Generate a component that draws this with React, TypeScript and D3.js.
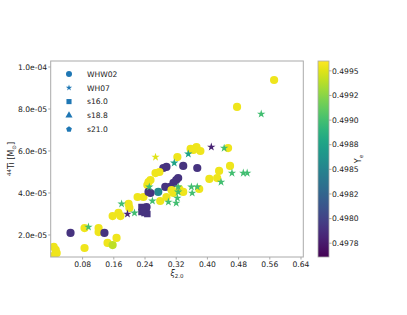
import React from "react";
import * as d3 from "d3";

// ---- data ----
const whw02Xi = [0.571, 0.476, 0.453, 0.357, 0.372, 0.382, 0.364, 0.323, 0.338, 0.287, 0.295, 0.374, 0.458, 0.430, 0.267, 0.277, 0.405, 0.425, 0.325, 0.320, 0.313, 0.305, 0.254, 0.246, 0.292, 0.328, 0.379, 0.274, 0.254, 0.308, 0.313, 0.338, 0.279, 0.295, 0.236, 0.221, 0.244, 0.249, 0.249, 0.198, 0.200, 0.157, 0.172, 0.177, 0.049, 0.085, 0.121, 0.121, 0.136, 0.144, 0.157, 0.167, 0.085, 0.006, 0.011, 0.0135, 0.003];
const whw02Ti = [9.38e-5, 8.10e-5, 6.14e-5, 6.10e-5, 6.19e-5, 6.00e-5, 6.05e-5, 5.71e-5, 5.29e-5, 5.19e-5, 5.24e-5, 5.19e-5, 5.29e-5, 5.05e-5, 4.95e-5, 5.00e-5, 4.67e-5, 4.71e-5, 4.71e-5, 4.62e-5, 4.48e-5, 4.29e-5, 4.62e-5, 4.38e-5, 4.29e-5, 4.19e-5, 4.19e-5, 4.05e-5, 4.00e-5, 4.14e-5, 4.00e-5, 4.05e-5, 3.62e-5, 3.81e-5, 3.81e-5, 3.81e-5, 3.33e-5, 4.05e-5, 4.52e-5, 3.48e-5, 3.29e-5, 2.90e-5, 3.05e-5, 2.90e-5, 2.10e-5, 2.33e-5, 2.33e-5, 2.14e-5, 2.10e-5, 1.62e-5, 1.52e-5, 1.86e-5, 1.38e-5, 1.43e-5, 1.29e-5, 1.14e-5, 1.0e-5];
const whw02Ye = [0.49955, 0.49955, 0.49955, 0.49955, 0.49955, 0.49955, 0.49955, 0.49955, 0.4979, 0.4979, 0.4979, 0.4979, 0.49955, 0.49955, 0.49955, 0.49955, 0.49955, 0.49955, 0.4979, 0.4979, 0.4979, 0.4979, 0.49955, 0.49955, 0.4979, 0.49955, 0.49955, 0.49855, 0.4979, 0.49955, 0.49955, 0.49955, 0.49955, 0.49955, 0.49955, 0.49955, 0.4979, 0.4979, 0.49955, 0.49955, 0.49955, 0.49955, 0.49955, 0.49955, 0.4979, 0.49955, 0.49955, 0.49955, 0.4979, 0.49955, 0.4994, 0.49955, 0.49955, 0.49955, 0.49955, 0.49955, 0.49955];

const wh07Xi = [0.538, 0.410, 0.443, 0.351, 0.267, 0.315, 0.463, 0.492, 0.502, 0.435, 0.251, 0.325, 0.359, 0.374, 0.361, 0.325, 0.323, 0.320, 0.300, 0.259, 0.180, 0.195, 0.213, 0.095];
const wh07Ti = [7.76e-5, 6.19e-5, 6.14e-5, 5.86e-5, 5.71e-5, 5.43e-5, 4.95e-5, 4.95e-5, 4.95e-5, 4.52e-5, 4.29e-5, 4.29e-5, 4.29e-5, 4.29e-5, 4.00e-5, 4.05e-5, 3.76e-5, 3.52e-5, 3.57e-5, 3.62e-5, 3.48e-5, 3.00e-5, 3.05e-5, 2.38e-5];
const wh07Ye = [0.4990, 0.4978, 0.4990, 0.49876, 0.4995, 0.49876, 0.4990, 0.4990, 0.4990, 0.4990, 0.4990, 0.4990, 0.4990, 0.4990, 0.4990, 0.4990, 0.4990, 0.4990, 0.4990, 0.4990, 0.4990, 0.4978, 0.4990, 0.4990];

const s160Xi = [0.231, 0.244, 0.231, 0.246];
const s160Ti = [3.33e-5, 3.24e-5, 3.10e-5, 3.00e-5];
const s160Ye = [0.4979, 0.4979, 0.4979, 0.4979];

const s188Xi = [0.241];
const s188Ti = [3.02e-5];
const s188Ye = [0.4979];

const s210Xi = [0.236];
const s210Ti = [3.18e-5];
const s210Ye = [0.4979];

const legendLabels = ["WHW02", "WH07", "s16.0", "s18.8", "s21.0"];
const xTicks = [0.08, 0.16, 0.24, 0.32, 0.40, 0.48, 0.56, 0.64];
const yTicks = [2e-5, 4e-5, 6e-5, 8e-5, 1e-4];
const yTickLabels = ["2.0e-05", "4.0e-05", "6.0e-05", "8.0e-05", "1.0e-04"];
const cbTicks = [0.49775, 0.498, 0.49825, 0.4985, 0.49875, 0.499, 0.49925, 0.4995];
const cbTickLabels = ["0.4978", "0.4980", "0.4982", "0.4985", "0.4988", "0.4990", "0.4992", "0.4995"];

const FONT = "DejaVu Sans";
const FS = 7.6;
const TXT = "#222";
const FRAME = "#aaaaaa";
const LEG = "#1f77b4";

export default function App() {
  const L = 50.7, R = 303.3, T = 61, B = 257;
  const x = d3.scaleLinear().domain([-0.0018, 0.6459]).range([L, R]);
  const y = d3.scaleLinear().domain([0.952e-5, 1.0286e-4]).range([B, T]);
  const cbL = 318, cbR = 329;
  const cScale = d3.scaleLinear().domain([0.49761, 0.4996]).range([0, 1]).clamp(true);
  const col = (v: number) => d3.interpolateViridis(cScale(v));
  const cbY = d3.scaleLinear().domain([0.49761, 0.4996]).range([B, T]);

  const circle = d3.symbol(d3.symbolCircle, Math.PI * 4.1 * 4.1)();
  const star = d3.symbol(d3.symbolStar, 22)();
  const square = d3.symbol(d3.symbolSquare, 42)();
  const tri = d3.symbol(d3.symbolTriangle, 36)();
  const pent = (r: number) => {
    const pts = d3.range(5).map(i => {
      const a = -Math.PI / 2 + (i * 2 * Math.PI) / 5;
      return [r * Math.cos(a), r * Math.sin(a)];
    });
    return "M" + pts.map(p => p.join(",")).join("L") + "Z";
  };

  const series = [
    { xs: whw02Xi, ts: whw02Ti, ys: whw02Ye, path: circle },
    { xs: wh07Xi, ts: wh07Ti, ys: wh07Ye, path: star },
    { xs: s160Xi, ts: s160Ti, ys: s160Ye, path: square },
    { xs: s188Xi, ts: s188Ti, ys: s188Ye, path: tri },
    { xs: s210Xi, ts: s210Ti, ys: s210Ye, path: pent(3.8) },
  ];

  const legPaths = [
    d3.symbol(d3.symbolCircle, Math.PI * 3 * 3)(),
    d3.symbol(d3.symbolStar, 12)(),
    d3.symbol(d3.symbolSquare, 26)(),
    d3.symbol(d3.symbolTriangle, 22)(),
    pent(3),
  ];

  const stops = d3.range(0, 1.001, 0.05);

  return (
    <svg width={407} height={315} style={{ position: "absolute", left: 0, top: 0, background: "#fff" }} fontFamily={FONT}>
      <defs>
        <linearGradient id="vir" x1="0" y1="1" x2="0" y2="0">
          {stops.map(s => (
            <stop key={s} offset={s} stopColor={d3.interpolateViridis(s)} />
          ))}
        </linearGradient>
        <clipPath id="plotclip">
          <rect x={L} y={T} width={R - L} height={B - T} />
        </clipPath>
      </defs>

      <g clipPath="url(#plotclip)">
        {series.map((s, si) =>
          s.xs.map((xv, i) => (
            <path key={si + "-" + i} d={s.path} transform={`translate(${x(xv)},${y(s.ts[i])})`} fill={col(s.ys[i])} />
          ))
        )}
      </g>

      <rect x={L} y={T} width={R - L} height={B - T} fill="none" stroke={FRAME} strokeWidth={1} />

      {xTicks.map(t => (
        <g key={t}>
          <line x1={x(t)} x2={x(t)} y1={B} y2={B + 2.5} stroke={FRAME} />
          <text x={x(t)} y={B + 10} fontSize={FS} textAnchor="middle" fill={TXT}>{t.toFixed(2)}</text>
        </g>
      ))}
      {yTicks.map((t, i) => (
        <g key={t}>
          <line x1={L - 2.5} x2={L} y1={y(t)} y2={y(t)} stroke={FRAME} />
          <text x={L - 3.5} y={y(t) + 2.7} fontSize={FS} textAnchor="end" fill={TXT}>{yTickLabels[i]}</text>
        </g>
      ))}

      <text x={(L + R) / 2} y={276} fontSize={8} textAnchor="middle" fill={TXT}>
        <tspan fontStyle="italic">ξ</tspan>
        <tspan fontSize={5.5} dy={1.8}>2.0</tspan>
      </text>

      <text transform={`translate(14,${(T + B) / 2}) rotate(-90)`} fontSize={8} textAnchor="middle" fill={TXT}>
        <tspan fontSize={5.5} dy={-2.8}>44</tspan>
        <tspan dy={2.8}>Ti [M</tspan>
        <tspan fontSize={5.5} dy={1.8}>⊙</tspan>
        <tspan dy={-1.8}>]</tspan>
      </text>

      {legendLabels.map((lab, i) => (
        <g key={lab} transform={`translate(0,${74 + i * 13.8})`}>
          <path d={legPaths[i]} transform="translate(69,0)" fill={LEG} />
          <text x={87} y={2.8} fontSize={FS} fill={TXT}>{lab}</text>
        </g>
      ))}

      <rect x={cbL} y={T} width={cbR - cbL} height={B - T} fill="url(#vir)" stroke={FRAME} strokeWidth={0.8} />
      {cbTicks.map((t, i) => (
        <g key={t}>
          <line x1={cbR} x2={cbR + 2.5} y1={cbY(t)} y2={cbY(t)} stroke={FRAME} />
          <text x={cbR + 3} y={cbY(t) + 2.7} fontSize={FS} fill={TXT}>{cbTickLabels[i]}</text>
        </g>
      ))}
      <text transform={`translate(361,${(T + B) / 2}) rotate(-90)`} fontSize={8} textAnchor="middle" fill={TXT}>
        Y<tspan fontSize={5.5} dy={1.8}>e</tspan>
      </text>
    </svg>
  );
}
